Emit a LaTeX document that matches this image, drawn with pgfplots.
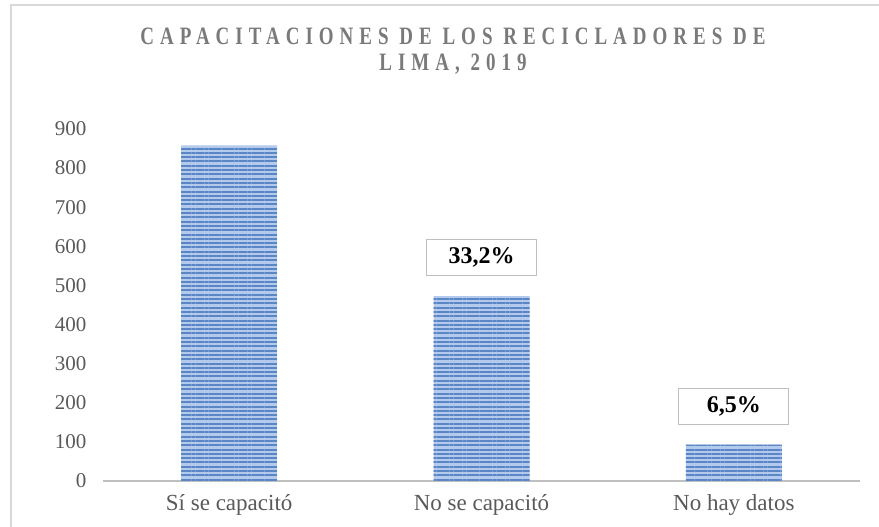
\documentclass[border=0pt]{standalone}
\usepackage{fontspec}
\setmainfont{Liberation Serif}
\usepackage{pgfplots}
\pgfplotsset{compat=1.18}
\usetikzlibrary{patterns.meta}
\newfontfamily\titlefont[FakeStretch=0.76,LetterSpace=24]{Liberation Serif Bold}
\definecolor{barlight}{HTML}{B3CAEC}
\definecolor{bardark}{HTML}{5A86C6}
\definecolor{txtgray}{HTML}{595959}
\definecolor{titlegray}{HTML}{7A7A7A}
\definecolor{framegray}{HTML}{D9D9D9}
\definecolor{axisgray}{HTML}{BFBFBF}
\begin{document}
\begin{tikzpicture}[x=1pt,y=1pt]
\useasboundingbox (0,0) rectangle (879,527);
\draw[framegray, line width=1.5pt] (11,-2) -- (11,522) -- (882,522);
\node[anchor=base, text=titlegray, font=\titlefont\fontsize{25}{28}\selectfont] at (453,482) {CAPACITACIONES DE LOS RECICLADORES DE};
\node[anchor=base, text=titlegray, font=\titlefont\fontsize{25}{28}\selectfont] at (453,456) {LIMA, 2019};
\begin{axis}[
  at={(103pt,46pt)}, anchor=south west,
  scale only axis, width=757pt, height=352pt,
  xmin=-0.5, xmax=2.5, ymin=0, ymax=900,
  axis x line*=bottom, axis y line*=left,
  y axis line style={draw=none},
  x axis line style={draw=axisgray, line width=2pt},
  xtick={0,1,2},
  xticklabels={Sí se capacitó, No se capacitó, No hay datos},
  ytick={0,100,...,900},
  major tick length=0pt,
  /pgf/number format/assume math mode=true,
  yticklabel style={font=\fontsize{21}{24}\selectfont, text=txtgray, xshift=-13pt},
  xticklabel style={font=\fontsize{23}{26}\selectfont, text=txtgray, yshift=-10pt},
  ybar, bar width=96pt, bar shift=0pt,
]
\addplot[fill=barlight, draw=none] coordinates {(0,858) (1,473) (2,93)};
\addplot[draw=none, pattern={Lines[angle=0, distance=4.3pt, line width=2pt]}, pattern color=bardark] coordinates {(0,858) (1,473) (2,93)};
\addplot[draw=none, fill=none,
  point meta=explicit symbolic,
  nodes near coords,
  every node near coord/.append style={anchor=south, yshift=20pt, draw=axisgray, line width=1pt, fill=white, text=black,
     minimum width=110pt, minimum height=36pt, inner sep=0pt,
     font=\bfseries\fontsize{24}{28}\selectfont}]
  coordinates {(1,473) [33,2\%] (2,93) [6,5\%]};
\end{axis}
\end{tikzpicture}
\end{document}
